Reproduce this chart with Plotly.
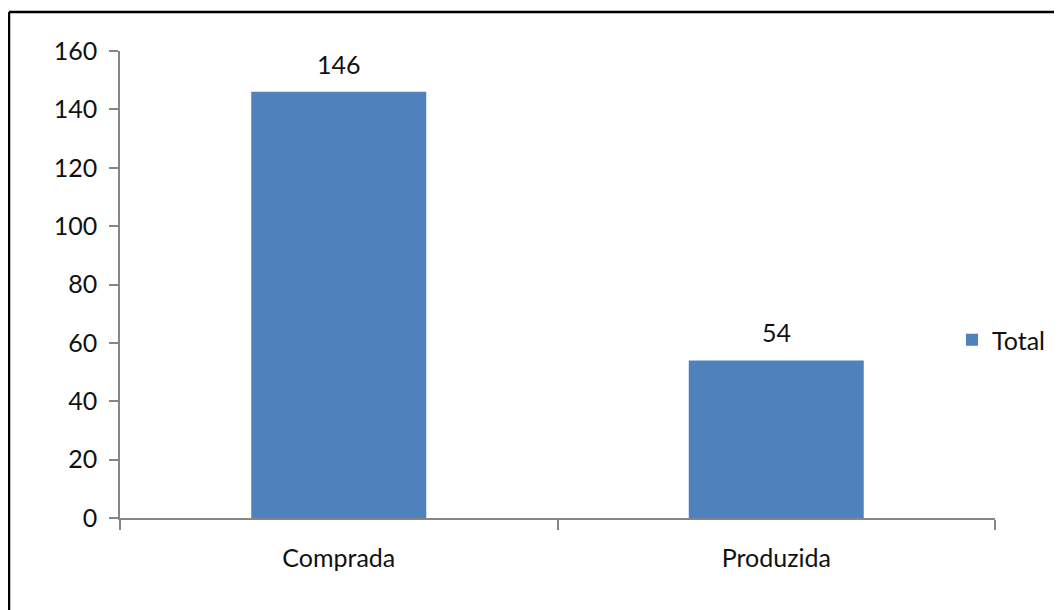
import plotly.graph_objects as go

categories = ["Comprada", "Produzida"]
values = [146, 54]
series_name = "Total"
y_ticks = [0, 20, 40, 60, 80, 100, 120, 140, 160]

BAR_COLOR = "#4F81BD"
AXIS_COLOR = "#868686"
FONT = "Lato, 'Open Sans', sans-serif"
TEXT_COLOR = "#111111"

# page body has an 8px margin; work in screen pixels and convert
OFF = 8
W, H = 1062 - OFF, 610 - OFF
PL, PR, PT, PB = 120, 995, 51, 518          # plot area in screen px
L, R, T, B = PL - OFF, (W + OFF) - PR, PT - OFF, (H + OFF) - PB

pw, ph = PR - PL, PB - PT
def px_x(px):
    return (px - PL) / pw
def px_y(py):
    return (PB - py) / ph

fig = go.Figure()
fig.add_trace(go.Bar(
    x=categories, y=values, name=series_name,
    marker=dict(color=BAR_COLOR, line=dict(width=0)),
    width=0.4, showlegend=True,
))

# data labels
for c, v in zip(categories, values):
    fig.add_annotation(x=c, y=v, text=str(v), showarrow=False,
                       yanchor="middle", yshift=28,
                       font=dict(family=FONT, size=25, color=TEXT_COLOR))

# outer frame (top + left edges visible)
fig.add_shape(type="line", xref="paper", yref="paper",
              x0=px_x(9), x1=px_x(1075), y0=px_y(12), y1=px_y(12),
              line=dict(color="black", width=2.5))
fig.add_shape(type="line", xref="paper", yref="paper",
              x0=px_x(9), x1=px_x(9), y0=px_y(12), y1=px_y(625),
              line=dict(color="black", width=2.5))

fig.update_layout(
    width=W, height=H,
    margin=dict(l=L, r=R, t=T, b=B, pad=0),
    paper_bgcolor="white", plot_bgcolor="white",
    font=dict(family=FONT, size=25, color=TEXT_COLOR),
    legend=dict(x=px_x(952), y=px_y(340), xanchor="left", yanchor="middle",
                font=dict(family=FONT, size=25, color=TEXT_COLOR),
                bgcolor="rgba(0,0,0,0)", borderwidth=0, itemwidth=30),
    xaxis=dict(
        type="category", range=[-0.5, 1.5],
        showline=True, linecolor=AXIS_COLOR, linewidth=1.5,
        ticks="outside", tickson="boundaries", ticklen=10,
        tickcolor=AXIS_COLOR, tickwidth=1.5,
        showgrid=False, zeroline=False,
        tickfont=dict(family=FONT, size=25, color=TEXT_COLOR),
        ticklabelstandoff=17,
    ),
    yaxis=dict(
        range=[0, 160], tickvals=y_ticks,
        showline=True, linecolor=AXIS_COLOR, linewidth=1.5,
        ticks="outside", ticklen=9, tickcolor=AXIS_COLOR, tickwidth=1.5,
        showgrid=False, zeroline=False,
        tickfont=dict(family=FONT, size=25, color=TEXT_COLOR),
        ticklabelstandoff=7,
    ),
)

fig.write_html("out.html")
